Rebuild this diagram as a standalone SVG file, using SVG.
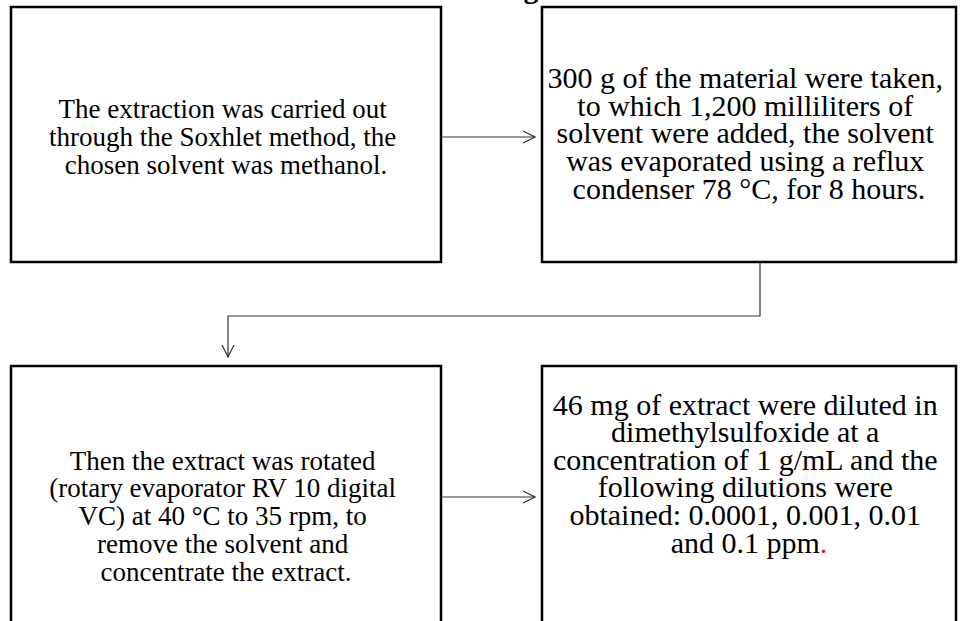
<svg xmlns="http://www.w3.org/2000/svg" width="962" height="621" viewBox="0 0 962 621">
  <defs>
    <style>
      .box { fill: #ffffff; stroke: #000000; stroke-width: 2.5; }
      .txt { font-family: "Liberation Serif", "Times New Roman", serif; font-size: 30px; fill: #000000; text-anchor: middle; }
      .txt-sm { font-size: 27px; }
      .link { fill: none; stroke: #333333; stroke-width: 1.2; }
    </style>
    <marker id="open-arrow" viewBox="0 0 14 14" refX="13" refY="7" markerWidth="14" markerHeight="14" markerUnits="userSpaceOnUse" orient="auto">
      <path d="M1,1 L13,7 L1,13" fill="none" stroke="#333333" stroke-width="1.2"/>
    </marker>
  </defs>

  <rect width="962" height="621" fill="#ffffff"/>

  <!-- clipped heading descender above the flow -->
  <text class="txt" x="531" y="-2" font-weight="bold">g</text>

  <g id="node-extraction">
    <rect class="box" x="11" y="7" width="430" height="255"/>
    <text class="txt txt-sm">
      <tspan x="226" y="118">The extraction was carried out</tspan>
      <tspan x="226" y="146">through the Soxhlet method, the</tspan>
      <tspan x="226" y="174">chosen solvent was methanol.</tspan>
    </text>
  </g>

  <g id="node-material">
    <rect class="box" x="542" y="7" width="414" height="255"/>
    <text class="txt">
      <tspan x="749" y="88">300 g of the material were taken,</tspan>
      <tspan x="749" y="116">to which 1,200 milliliters of</tspan>
      <tspan x="749" y="143">solvent were added, the solvent</tspan>
      <tspan x="749" y="171">was evaporated using a reflux</tspan>
      <tspan x="749" y="199">condenser 78 °C, for 8 hours.</tspan>
    </text>
  </g>

  <g id="node-rotation">
    <rect class="box" x="11" y="366" width="430" height="270"/>
    <text class="txt txt-sm">
      <tspan x="226" y="470">Then the extract was rotated</tspan>
      <tspan x="226" y="497">(rotary evaporator RV 10 digital</tspan>
      <tspan x="226" y="525">VC) at 40 °C to 35 rpm, to</tspan>
      <tspan x="226" y="553">remove the solvent and</tspan>
      <tspan x="226" y="581">concentrate the extract.</tspan>
    </text>
  </g>

  <g id="node-dilution">
    <rect class="box" x="542" y="366" width="414" height="270"/>
    <text class="txt">
      <tspan x="749" y="415">46 mg of extract were diluted in</tspan>
      <tspan x="749" y="442">dimethylsulfoxide at a</tspan>
      <tspan x="749" y="470">concentration of 1 g/mL and the</tspan>
      <tspan x="749" y="497">following dilutions were</tspan>
      <tspan x="749" y="525">obtained: 0.0001, 0.001, 0.01</tspan>
      <tspan x="749" y="553">and 0.1 ppm<tspan fill="#e02020">.</tspan></tspan>
    </text>
  </g>

  <g id="connectors">
    <path class="link" d="M442,137 H535" marker-end="url(#open-arrow)"/>
    <path class="link" d="M760,263 V316 H228 V357" marker-end="url(#open-arrow)"/>
    <path class="link" d="M442,497 H535" marker-end="url(#open-arrow)"/>
  </g>
</svg>
